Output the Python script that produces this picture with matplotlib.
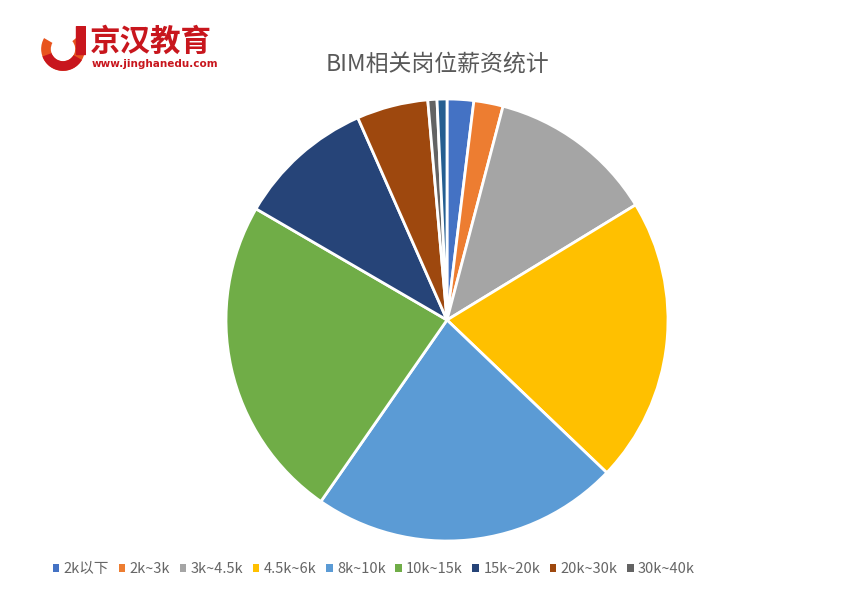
import matplotlib.pyplot as plt
from matplotlib.patches import Wedge, Patch

plt.rcParams['font.family'] = ['Noto Sans CJK SC', 'DejaVu Sans']

# 薪资区间与占比（从图上估读的角度）
labels = ['2k以下', '2k~3k', '3k~4.5k', '4.5k~6k', '8k~10k', '10k~15k',
          '15k~20k', '20k~30k', '30k~40k', '40k以上']
values = [7.0, 7.7, 43.9, 75.1, 81.1, 85.4, 36.0, 18.8, 2.4, 2.6]
colors = ['#4472C4', '#ED7D31', '#A5A5A5', '#FFC000', '#5B9BD5', '#70AD47',
          '#264478', '#9E480E', '#636363', '#255E91']

fig = plt.figure(figsize=(8.64, 6.02), dpi=100)

# 饼图
ax = fig.add_axes([(447 - 221) / 864, (602 - 541) / 602, 442 / 864, 442 / 602])
ax.pie(values, colors=colors, startangle=90, counterclock=False,
       wedgeprops=dict(edgecolor='white', linewidth=2))
ax.set_aspect('equal')
ax.set_xlim(-1.0, 1.0)
ax.set_ylim(-1.0, 1.0)

# 标题
fig.text(437 / 864, 1 - 65 / 602, 'BIM相关岗位薪资统计', ha='center', va='center',
         fontsize=16.5, color='#595959')

# 图例（只显示前9项）
handles = [Patch(facecolor=c, edgecolor='none') for c in colors[:9]]
fig.legend(handles, labels[:9], loc='center', bbox_to_anchor=(374 / 864, 1 - 569 / 602),
           ncol=9, frameon=False, fontsize=10.5, labelcolor='#666666',
           handlelength=0.45, handleheight=0.45, handletextpad=0.3, columnspacing=0.65)

# Logo
lax = fig.add_axes([40 / 864, 1 - 72 / 602, 46 / 864, 46 / 602])
lax.set_xlim(-1, 1)
lax.set_ylim(-1, 1)
lax.set_aspect('equal')
lax.axis('off')
lax.add_patch(Wedge((0, 0), 0.95, 150, 400, width=0.42, facecolor='#E8541E'))
lax.add_patch(Wedge((0, 0), 0.95, 200, 330, width=0.42, facecolor='#C8161D'))
lax.fill([0.55, 0.95, 0.95, 0.55], [-0.2, -0.2, 1.0, 1.0], color='#C8161D')
fig.text(90 / 864, 1 - 42 / 602, '京汉教育', fontsize=22, fontweight='bold',
         color='#C8161D', va='center', ha='left')
fig.text(92 / 864, 1 - 64 / 602, 'www.jinghanedu.com', fontsize=7.5, fontweight='bold',
         color='#C8161D', va='center', ha='left', family='DejaVu Sans')

fig.savefig('out.png', dpi=100, facecolor='white')
